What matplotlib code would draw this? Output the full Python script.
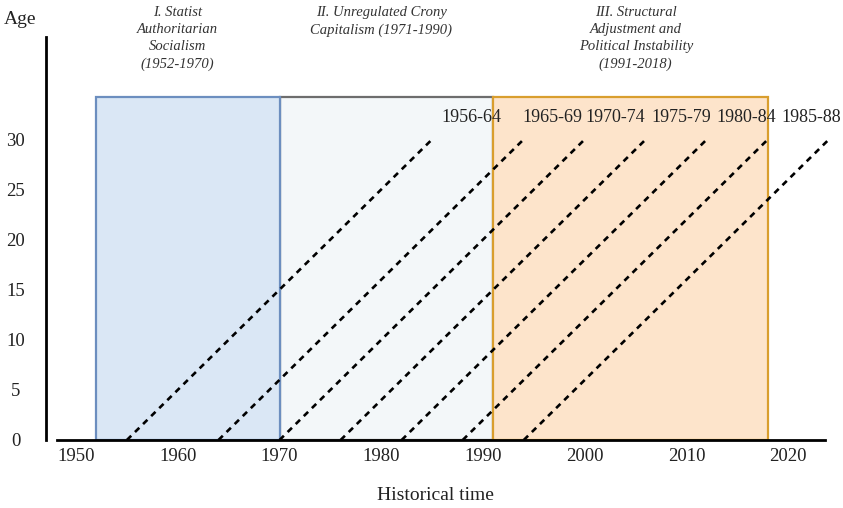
import matplotlib.pyplot as plt
from matplotlib.patches import Rectangle

plt.rcParams['font.family'] = ['Liberation Serif', 'DejaVu Serif']

# historical periods
period_titles = ['I. Statist\nAuthoritarian\nSocialism\n(1952-1970)',
                 'II. Unregulated Crony\nCapitalism (1971-1990)',
                 'III. Structural\nAdjustment and\nPolitical Instability\n(1991-2018)']
period_start = [1952, 1970, 1991]
period_end = [1970, 1991, 2018]
period_top = 34.2
title_x = [1960, 1980, 2005]

# birth cohorts (dashed age lines)
cohort_start = [1955, 1964, 1970, 1976, 1982, 1988, 1994]
cohort_span = 30
cohort_labels = ['1956-64', '1965-69', '1970-74', '1975-79', '1980-84', '1985-88']
label_x = [1985.9, 1993.9, 2000.1, 2006.5, 2012.9, 2019.3]
label_y = 32.2

xticks = [1950, 1960, 1970, 1980, 1990, 2000, 2010, 2020]
yticks = [0, 5, 10, 15, 20, 25, 30]

W, H = 843, 508
fig = plt.figure(figsize=(W / 100, H / 100), dpi=100)
ax = fig.add_axes([46 / W, 68 / H, (825 - 46) / W, (440 - 37) / H])
ax.set_xlim(1947.05, 2023.6)
ax.set_ylim(0, 40.2)

fills = ['#dae7f5', '#f3f7f9', '#fde4cb']
edges = ['#6c8ebf', '#6d6d6d', '#d99e2e']
# middle box first so neighbours' coloured edges sit on top
for i in [1, 0, 2]:
    ax.add_patch(Rectangle((period_start[i], 0), period_end[i] - period_start[i], period_top,
                           facecolor=fills[i], edgecolor=edges[i], lw=1.6, zorder=1))

for s in cohort_start:
    ax.plot([s, s + cohort_span], [0, cohort_span], color='black', lw=1.9,
            linestyle=(0, (2.3, 2.0)), zorder=3, clip_on=False)

for lab, lx in zip(cohort_labels, label_x):
    ax.text(lx, label_y, lab, fontsize=13, color='#222222', ha='left', va='center', zorder=4)

# period titles hang from the top of the figure
xy_fig = fig.transFigure.inverted()
for t, tx in zip(period_titles, title_x):
    fx = xy_fig.transform(ax.transData.transform((tx, 0)))[0]
    fig.text(fx, 1 - 6 / H, t, fontsize=10.5, style='italic', color='#333333',
             ha='center', va='top', linespacing=1.4)

ax.spines['top'].set_visible(False)
ax.spines['right'].set_visible(False)
ax.spines['left'].set_linewidth(2)
ax.spines['bottom'].set_linewidth(2)
ax.spines['bottom'].set_bounds(1948.1, 2023.6)
ax.spines['left'].set_zorder(5)
ax.spines['bottom'].set_zorder(5)

ax.set_xticks(xticks)
ax.set_yticks(yticks)
ax.tick_params(axis='both', length=0, labelsize=13.5, labelcolor='#222222')
ax.tick_params(axis='x', pad=6)
ax.tick_params(axis='y', pad=22)
for lab in ax.get_yticklabels():
    lab.set_horizontalalignment('center')

fig.text(20 / W, 1 - 20 / H, 'Age', fontsize=14, color='#222222', ha='center', va='center')
fig.text(435 / W, 1 - 495 / H, 'Historical time', fontsize=14, color='#222222',
         ha='center', va='center')

fig.savefig('out.png', dpi=100)
